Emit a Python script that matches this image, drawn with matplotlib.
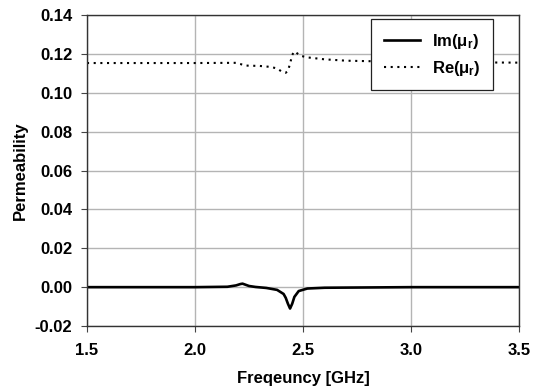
import matplotlib.pyplot as plt

plt.rcParams["font.family"] = ["Liberation Sans", "DejaVu Sans"]
plt.rcParams["font.weight"] = "bold"
plt.rcParams["mathtext.fontset"] = "custom"
plt.rcParams["mathtext.rm"] = "Liberation Sans:bold"
plt.rcParams["mathtext.it"] = "Liberation Sans:bold"
plt.rcParams["mathtext.bf"] = "Liberation Sans:bold"

# Real part of relative permeability
re_freq = [1.5, 2.0, 2.19, 2.21, 2.23, 2.30, 2.35, 2.38, 2.40, 2.42, 2.43,
           2.44, 2.45, 2.46, 2.47, 2.49, 2.52, 2.60, 2.70, 3.0, 3.5]
re_mu = [0.1153, 0.1153, 0.1154, 0.1148, 0.1140, 0.1138, 0.1133, 0.1125,
         0.1110, 0.1103, 0.1112, 0.1150, 0.1195, 0.1213, 0.1205, 0.1190,
         0.1182, 0.1172, 0.1165, 0.1158, 0.1155]

# Imaginary part of relative permeability
im_freq = [1.5, 2.0, 2.15, 2.19, 2.21, 2.22, 2.23, 2.25, 2.28, 2.33, 2.38,
           2.41, 2.42, 2.43, 2.44, 2.45, 2.46, 2.48, 2.52, 2.60, 3.0, 3.5]
im_mu = [0.0, 0.0, 0.0002, 0.0009, 0.0016, 0.0018, 0.0014, 0.0006, 0.0001,
         -0.0004, -0.0014, -0.0035, -0.0055, -0.0085, -0.0110, -0.0085,
         -0.0050, -0.0020, -0.0007, -0.0003, 0.0, 0.0]

fig = plt.figure(figsize=(5.39, 3.90), dpi=100)
ax = fig.add_axes([0.1614, 0.164, 0.8016, 0.7975])

ax.plot(im_freq, im_mu, color="black", lw=1.9, label=r"Im($\mu_\mathbf{r}$)")
ax.plot(re_freq, re_mu, color="black", lw=1.5, linestyle=(0, (1, 2.2)),
        label=r"Re($\mu_\mathbf{r}$)")

ax.set_xlim(1.5, 3.5)
ax.set_ylim(-0.02, 0.14)
ax.set_xticks([1.5, 2.0, 2.5, 3.0, 3.5])
ax.set_yticks([-0.02, 0.0, 0.02, 0.04, 0.06, 0.08, 0.10, 0.12, 0.14])
ax.xaxis.set_major_formatter(plt.FormatStrFormatter("%.1f"))
ax.yaxis.set_major_formatter(plt.FormatStrFormatter("%.2f"))
ax.tick_params(axis="both", direction="out", length=4, width=0.8,
               color="#444444", labelsize=12)
ax.tick_params(axis="x", pad=8)
ax.tick_params(axis="y", pad=6.5)
for lbl in ax.get_xticklabels() + ax.get_yticklabels():
    lbl.set_fontweight("bold")

ax.grid(True, color="#b4b4b4", lw=1.0)
ax.set_axisbelow(True)
for s in ax.spines.values():
    s.set_color("#333333")
    s.set_linewidth(1.0)

ax.set_xlabel("Freqeuncy [GHz]", fontsize=12, fontweight="bold", labelpad=9.5)
ax.set_ylabel("Permeability", fontsize=12, fontweight="bold", labelpad=5)

leg = ax.legend(loc="upper right", bbox_to_anchor=(0.940, 0.987),
                borderaxespad=0, fancybox=False, framealpha=1,
                edgecolor="#222222", fontsize=12, handlelength=2.2,
                handletextpad=0.7, borderpad=0.75, labelspacing=0.5)
leg.get_frame().set_linewidth(0.9)
for t in leg.get_texts():
    t.set_fontweight("bold")

fig.savefig("out.png", dpi=100)
